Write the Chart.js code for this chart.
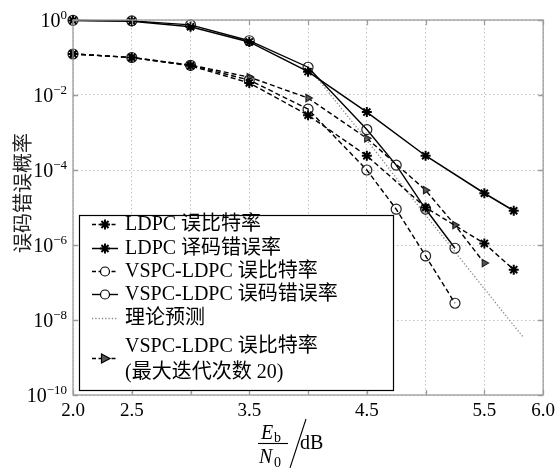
<!DOCTYPE html>
<html><head><meta charset="utf-8">
<script src="https://cdn.jsdelivr.net/npm/chart.js@4"></script>
<style>html,body{margin:0;padding:0;background:#fff}#wrap{width:560px;height:468px}</style>
</head><body><div id="wrap"><canvas id="c" width="560" height="468"></canvas></div>
<script>
// ---- data ----
const xLdpc = [2.0, 2.5, 3.0, 3.5, 4.0, 4.5, 5.0, 5.5, 5.75];
const ldpcBer = [0.124, 0.10, 0.060, 0.021, 2.9e-3, 2.4e-4, 1.0e-5, 1.1e-6, 2.2e-7];
const ldpcBler = [0.97, 0.93, 0.66, 0.26, 0.042, 3.5e-3, 2.4e-4, 2.4e-5, 8.2e-6];
const xVspc = [2.0, 2.5, 3.0, 3.5, 4.0, 4.5, 4.75, 5.0, 5.25];
const vspcBer = [0.124, 0.10, 0.062, 0.025, 4.2e-3, 1.0e-4, 9.0e-6, 5.1e-7, 2.8e-8];
const vspcBler = [0.98, 0.95, 0.74, 0.28, 0.055, 1.2e-3, 1.35e-4, 9.1e-6, 8.2e-7];
const xTheory = [4.0, 4.5, 4.75, 5.0, 5.5, 5.83];
const theory = [0.056, 6.3e-4, 6.2e-5, 6.3e-6, 6.8e-8, 3.5e-9];
const xIter20 = [2.0, 2.5, 3.0, 3.5, 4.0, 4.5, 5.0, 5.25, 5.5];
const vspcBerIter20 = [0.125, 0.10, 0.063, 0.030, 8.3e-3, 7.0e-4, 2.9e-5, 3.4e-6, 3.3e-7];
const xTicks = [2.0, 2.5, 3.0, 3.5, 4.0, 4.5, 5.0, 5.5, 6.0];
const xTickLabels = ['2.0', '2.5', '', '3.5', '', '4.5', '', '5.5', '6.0'];
const yTickExps = [0, -2, -4, -6, -8, -10];
const legendLabels = ['LDPC 误比特率', 'LDPC 译码错误率', 'VSPC-LDPC 误比特率', 'VSPC-LDPC 误码错误率', '理论预测', ['VSPC-LDPC 误比特率', '(最大迭代次数 20)']];
const yTitle = '误码错误概率';

const K = '#000';
const DASH = [5, 3];
function mk(xs, ys) { return xs.map((x, i) => ({ x: x, y: ys[i] })); }

const datasets = [
  { label: legendLabels[0], data: mk(xLdpc, ldpcBer), borderColor: K, borderWidth: 1.4, borderDash: DASH,
    pointStyle: 'star', pointRadius: 5, pointBorderWidth: 2, pointBorderColor: K, pointBackgroundColor: K },
  { label: legendLabels[1], data: mk(xLdpc, ldpcBler), borderColor: K, borderWidth: 1.5,
    pointStyle: 'star', pointRadius: 5, pointBorderWidth: 2, pointBorderColor: K, pointBackgroundColor: K },
  { label: legendLabels[2], data: mk(xVspc, vspcBer), borderColor: K, borderWidth: 1.4, borderDash: DASH,
    pointStyle: 'circle', pointRadius: 5, pointBorderWidth: 1.2, pointBorderColor: '#222', pointBackgroundColor: 'rgba(255,255,255,0)' },
  { label: legendLabels[3], data: mk(xVspc, vspcBler), borderColor: K, borderWidth: 1.4,
    pointStyle: 'circle', pointRadius: 5, pointBorderWidth: 1.2, pointBorderColor: '#222', pointBackgroundColor: 'rgba(255,255,255,0)' },
  { label: legendLabels[4], data: mk(xTheory, theory), borderColor: '#8a8a8a', borderWidth: 1.3, borderDash: [1.3, 2],
    pointRadius: 0 },
  { label: legendLabels[5].join(' '), data: mk(xIter20, vspcBerIter20), borderColor: K, borderWidth: 1.4, borderDash: DASH,
    pointStyle: 'triangle', pointRotation: 90, pointRadius: 4.2, pointBorderWidth: 1.2, pointBorderColor: '#222', pointBackgroundColor: '#555' }
];
datasets.forEach(d => { d.clip = false; });

const SERIF = '"Liberation Serif", "Times New Roman", "Noto Sans CJK SC", serif';
const LEGFONT = '20px "Liberation Serif", "Noto Sans CJK SC", serif';

function drawMarker(ctx, type, x, y) {
  ctx.save();
  ctx.setLineDash([]);
  ctx.strokeStyle = '#000';
  if (type === 'star') {
    ctx.lineWidth = 2; const r = 5;
    ctx.beginPath();
    for (let k = 0; k < 4; k++) {
      const a = k * Math.PI / 4;
      ctx.moveTo(x - r * Math.cos(a), y - r * Math.sin(a));
      ctx.lineTo(x + r * Math.cos(a), y + r * Math.sin(a));
    }
    ctx.stroke();
  } else if (type === 'circle') {
    ctx.lineWidth = 1.2; ctx.fillStyle = '#fff';
    ctx.beginPath(); ctx.arc(x, y, 4.5, 0, Math.PI * 2); ctx.fill(); ctx.stroke();
  } else if (type === 'triangle') {
    ctx.lineWidth = 1.2; ctx.fillStyle = '#555';
    ctx.beginPath(); ctx.moveTo(x + 5, y); ctx.lineTo(x - 3.5, y - 4.5); ctx.lineTo(x - 3.5, y + 4.5); ctx.closePath();
    ctx.fill(); ctx.stroke();
  }
  ctx.restore();
}

const deco = {
  id: 'deco',
  afterDraw(chart) {
    const ctx = chart.ctx, a = chart.chartArea, xs = chart.scales.x, ys = chart.scales.y;
    ctx.save();
    // frame
    ctx.setLineDash([]);
    ctx.strokeStyle = '#9c9c9c'; ctx.lineWidth = 1.3;
    ctx.strokeRect(a.left, a.top, a.right - a.left, a.bottom - a.top);
    // inner tick marks
    ctx.beginPath();
    xTicks.forEach(v => {
      const px = Math.round(xs.getPixelForValue(v)) + 0.5;
      ctx.moveTo(px, a.bottom); ctx.lineTo(px, a.bottom - 5);
      ctx.moveTo(px, a.top); ctx.lineTo(px, a.top + 5);
    });
    yTickExps.forEach(e => {
      const py = Math.round(ys.getPixelForValue(Math.pow(10, e))) + 0.5;
      ctx.moveTo(a.left, py); ctx.lineTo(a.left + 5, py);
      ctx.moveTo(a.right, py); ctx.lineTo(a.right - 5, py);
    });
    ctx.stroke();

    // y tick labels 10^e
    ctx.fillStyle = '#000'; ctx.textBaseline = 'alphabetic';
    yTickExps.forEach(e => {
      const py = ys.getPixelForValue(Math.pow(10, e));
      const sup = e === 0 ? '0' : '\u2212' + String(-e);
      ctx.font = '13px ' + SERIF;
      const sw = ctx.measureText(sup).width;
      ctx.font = '20px ' + SERIF;
      const bw = ctx.measureText('10').width;
      const right = 67;
      ctx.textAlign = 'left';
      ctx.fillText('10', right - sw - bw, py + 7);
      ctx.font = '13px ' + SERIF;
      ctx.fillText(sup, right - sw, py - 1);
    });

    // legend
    const L = { x: 79.5, y: 215.5, w: 314, h: 175 };
    ctx.fillStyle = '#fff'; ctx.fillRect(L.x, L.y, L.w, L.h);
    ctx.strokeStyle = '#000'; ctx.lineWidth = 1.2; ctx.strokeRect(L.x, L.y, L.w, L.h);
    const items = [
      { sy: 224, ty: [224], dash: [4, 2.5], color: '#000', w: 1.4, marker: 'star' },
      { sy: 248, ty: [248], dash: [], color: '#000', w: 1.5, marker: 'star' },
      { sy: 271, ty: [271], dash: [4, 2.5], color: '#000', w: 1.4, marker: 'circle' },
      { sy: 294, ty: [294], dash: [], color: '#000', w: 1.4, marker: 'circle' },
      { sy: 318, ty: [318], dash: [1.3, 2], color: '#8a8a8a', w: 1.3, marker: null },
      { sy: 358, ty: [346, 372], dash: [4, 2.5], color: '#000', w: 1.4, marker: 'triangle' }
    ];
    items.forEach((it, i) => {
      ctx.save();
      ctx.strokeStyle = it.color; ctx.lineWidth = it.w; ctx.setLineDash(it.dash);
      ctx.beginPath(); ctx.moveTo(92, it.sy + 0.5); ctx.lineTo(118, it.sy + 0.5); ctx.stroke();
      ctx.restore();
      if (it.marker) drawMarker(ctx, it.marker, 105, it.sy + 0.5);
      const lab = Array.isArray(legendLabels[i]) ? legendLabels[i] : [legendLabels[i]];
      ctx.fillStyle = '#000'; ctx.font = LEGFONT; ctx.textAlign = 'left'; ctx.textBaseline = 'middle';
      lab.forEach((t, k) => ctx.fillText(t, 125, it.ty[k] + 1));
    });

    // y-axis title
    ctx.save();
    ctx.translate(22, 193); ctx.rotate(-Math.PI / 2);
    ctx.font = '20px "Noto Sans CJK SC", sans-serif'; ctx.fillStyle = '#222';
    ctx.textAlign = 'center'; ctx.textBaseline = 'middle';
    ctx.fillText(yTitle, 0, 0);
    ctx.restore();

    // x-axis title: (E_b / N_0) / dB
    ctx.fillStyle = '#000'; ctx.textAlign = 'left'; ctx.textBaseline = 'alphabetic';
    ctx.font = 'italic 20px ' + SERIF; ctx.fillText('E', 261, 439);
    ctx.font = '14px ' + SERIF; ctx.fillText('b', 274, 442);
    ctx.strokeStyle = '#000'; ctx.lineWidth = 1.1; ctx.setLineDash([]);
    ctx.beginPath(); ctx.moveTo(258, 443.5); ctx.lineTo(288, 443.5); ctx.stroke();
    ctx.font = 'italic 20px ' + SERIF; ctx.fillText('N', 259, 463);
    ctx.font = '14px ' + SERIF; ctx.fillText('0', 274, 467);
    ctx.beginPath(); ctx.moveTo(306, 419); ctx.lineTo(290, 468); ctx.stroke();
    ctx.font = '20px ' + SERIF; ctx.fillText('dB', 300, 449);
    ctx.restore();
  }
};

new Chart(document.getElementById('c'), {
  type: 'line',
  data: { datasets: datasets },
  options: {
    responsive: false, animation: false, devicePixelRatio: 1,
    layout: { padding: { top: 20, right: 12, left: 0, bottom: 0 } },
    plugins: { legend: { display: false }, tooltip: { enabled: false } },
    elements: { line: { tension: 0 } },
    scales: {
      x: {
        type: 'linear', min: 2, max: 6,
        afterBuildTicks: s => { s.ticks = xTicks.map(v => ({ value: v })); },
        afterFit: s => { s.height = 73; },
        ticks: { callback: v => { const i = xTicks.indexOf(v); return i >= 0 ? xTickLabels[i] : ''; },
                 font: { family: SERIF, size: 19 }, color: '#000', padding: 5, maxRotation: 0, autoSkip: false },
        grid: { color: '#c2c2c2', lineWidth: 1, drawTicks: false },
        border: { display: false, dash: [1.5, 2.5] }
      },
      y: {
        type: 'logarithmic', min: 1e-10, max: 1,
        afterBuildTicks: s => { s.ticks = yTickExps.map(e => ({ value: Math.pow(10, e) })); },
        afterFit: s => { s.width = 73; },
        ticks: { display: false },
        grid: { color: '#c2c2c2', lineWidth: 1, drawTicks: false },
        border: { display: false, dash: [1.5, 2.5] }
      }
    }
  },
  plugins: [deco]
});
</script>
</body></html>
